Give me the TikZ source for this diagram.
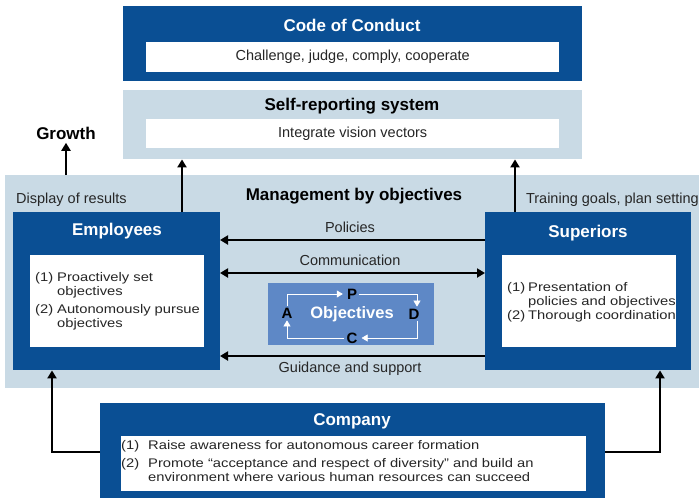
\documentclass[tikz,border=0pt]{standalone}
\usepackage{fontspec}
\setmainfont{Liberation Sans}
\newfontfamily\widefont{Liberation Sans}[FakeStretch=1.18]
\usetikzlibrary{arrows.meta}
\definecolor{dblue}{HTML}{0A4F94}
\definecolor{lblue}{HTML}{C9DAE5}
\definecolor{mblue}{HTML}{5E88C6}
\tikzset{
  darkbox/.style={fill=dblue, draw=none},
  lightbox/.style={fill=lblue, draw=none},
  whitebox/.style={fill=white, draw=none},
  title/.style={font=\fontsize{17}{19}\selectfont\bfseries, text=white},
  dtitle/.style={font=\fontsize{17}{19}\selectfont\bfseries, text=black},
  body/.style={font=\fontsize{14.5}{16}\selectfont, text=black!85},
  list/.style={font=\widefont\fontsize{12.5}{14.3}\selectfont, text=black!85, anchor=base west, inner sep=0},
  conn/.style={line width=2.5pt, -{Triangle[length=8pt,width=9pt]}},
  cyc/.style={white, line width=0.6pt, -{Triangle[length=6pt,width=7pt]}},
  cycl/.style={white, line width=0.6pt},
  pdca/.style={font=\fontsize{15}{17}\selectfont\bfseries, text=black},
}
\begin{document}
\begin{tikzpicture}[x=1pt,y=-1pt]
\useasboundingbox (0,0) rectangle (699,498);
% Code of Conduct
\node[darkbox, minimum width=459pt, minimum height=75pt, anchor=north west, inner sep=0] (coc) at (123,6) {};
\node[title] (coct) at (352,25) {Code of Conduct};
\node[whitebox, minimum width=413pt, minimum height=30pt, anchor=north west, inner sep=0] (cocw) at (146,42) {};
\node[body] at (cocw.center) {Challenge, judge, comply, cooperate};
% Self-reporting
\node[lightbox, minimum width=459pt, minimum height=69pt, anchor=north west, inner sep=0] (srs) at (123,90) {};
\node[dtitle] (srst) at (352,106) {Self-reporting system};
\node[whitebox, minimum width=413pt, minimum height=29pt, anchor=north west, inner sep=0] (srsw) at (146,119) {};
\node[body] at (srsw.center) {Integrate vision vectors};
% MBO band
\node[lightbox, minimum width=694pt, minimum height=213pt, anchor=north west, inner sep=0] (mbo) at (5,175) {};
\node[dtitle] (mbot) at (354,196) {Management by objectives};
\node[body, anchor=west, inner sep=0] (disp) at (16,200) {Display of results};
\node[body, anchor=east, inner sep=0] (train) at (699,200) {Training goals, plan setting};
\node[dtitle] (growth) at (66,133) {Growth};
\coordinate (gbase) at (66,175);
% Employees
\node[darkbox, minimum width=207pt, minimum height=158pt, anchor=north west, inner sep=0] (emp) at (13,212) {};
\node[title] at (117,231) {Employees};
\node[whitebox, minimum width=174pt, minimum height=92pt, anchor=north west, inner sep=0] (empw) at (30,255) {};
\node[list] at (35,281) {(1)};
\node[list] at (57,281) {Proactively set};
\node[list] at (57,295) {objectives};
\node[list] at (35,313) {(2)};
\node[list] at (57,313) {Autonomously pursue};
\node[list] at (57,327) {objectives};
% Superiors
\node[darkbox, minimum width=206pt, minimum height=158pt, anchor=north west, inner sep=0] (sup) at (485,212) {};
\node[title] at (588,233) {Superiors};
\node[whitebox, minimum width=174pt, minimum height=92pt, anchor=north west, inner sep=0] (supw) at (502,255) {};
\node[list] at (507,291) {(1)};
\node[list] at (528,291) {Presentation of};
\node[list] at (528,305) {policies and objectives};
\node[list] at (507,319) {(2)};
\node[list] at (528,319) {Thorough coordination};
% Company
\node[darkbox, minimum width=505pt, minimum height=100pt, anchor=north west, inner sep=0] (comp) at (100,403) {};
\node[title] at (352,421) {Company};
\node[whitebox, minimum width=465pt, minimum height=55pt, anchor=north west, inner sep=0] (compw) at (121,436) {};
\node[list] at (121,449) {(1)};
\node[list] at (148,449) {Raise awareness for autonomous career formation};
\node[list] at (121,467) {(2)};
\node[list] at (148,467) {Promote “acceptance and respect of diversity” and build an};
\node[list] at (148,481) {environment where various human resources can succeed};
% Objectives
\node[fill=mblue, minimum width=166pt, minimum height=62pt, anchor=north west, inner sep=0] (obj) at (268,283) {};
\node[font=\fontsize{16.5}{18}\selectfont\bfseries, text=white] (objt) at (352,314) {Objectives};
\node[pdca, inner sep=2pt] (P) at (352,294) {P};
\node[pdca, inner sep=2pt] (D) at (414,314) {D};
\node[pdca, inner sep=2pt] (C) at (352,338) {C};
\node[pdca, inner sep=2pt] (A) at (287,313) {A};
\coordinate (tl) at (287,294);
\coordinate (tr) at (417,294);
\coordinate (br) at (417,338);
\coordinate (bl) at (287,338);
\draw[cyc] (tl) -- ([xshift=-2pt]P.west);
\draw[cyc] (P.east) -- (tr) -- (D.north -| tr);
\draw[cyc] (D.south -| br) -- (br) -- ([xshift=2pt]C.east);
\draw[cyc] (C.west) -- (bl) -- (A.south -| bl);
\draw[cycl] (A.north -| tl) -- (tl);
% Horizontal arrows
\coordinate (polS) at (485,240);
\coordinate (polE) at (220,240);
\draw[conn] (polS) -- (polE);
\node[body] at (350,227) {Policies};
\coordinate (comS) at (220,273);
\coordinate (comE) at (485,273);
\draw[conn, {Triangle[length=8pt,width=9pt]}-{Triangle[length=8pt,width=9pt]}] (comS) -- (comE);
\node[body] at (350,260) {Communication};
\coordinate (guiS) at (485,356);
\coordinate (guiE) at (220,356);
\draw[conn] (guiS) -- (guiE);
\node[body] at (350,369) {Guidance and support};
% Vertical arrows
\draw[conn] (gbase) -- (growth.south);
\draw[conn] (emp.north -| 182,0) -- (srs.south -| 182,0);
\draw[conn] (sup.north -| 515,0) -- (srs.south -| 515,0);
\draw[conn] (comp.west |- 0,452) -- (52,452) -- (emp.south -| 52,0);
\draw[conn] (comp.east |- 0,452) -- (660,452) -- (sup.south -| 660,0);
\end{tikzpicture}
\end{document}
